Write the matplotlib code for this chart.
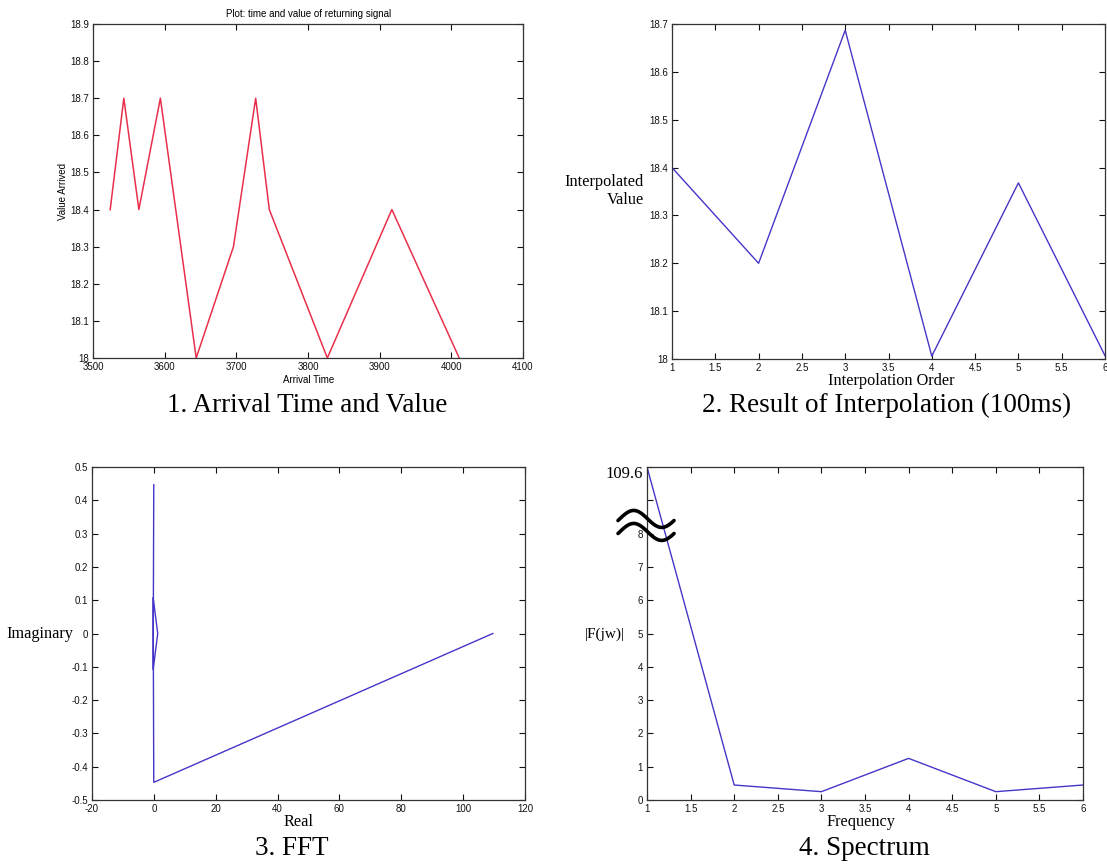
import numpy as np
import matplotlib
matplotlib.use("Agg")
import matplotlib.pyplot as plt

# ----------------------------
# Data
# ----------------------------
arrival_time = [3524, 3543, 3564, 3594, 3644, 3696, 3727, 3746, 3827, 3917, 4011]
arrival_value = [18.4, 18.7, 18.4, 18.7, 18.0, 18.3, 18.7, 18.4, 18.0, 18.4, 18.0]

interp_order = [1, 2, 3, 4, 5, 6]
interp_value = [18.4, 18.2, 18.687, 18.006, 18.368, 18.007]

fft_real = [109.6, -0.03, -0.23, 1.25, -0.23, -0.03]
fft_imag = [0.0, -0.447, 0.108, 0.0, -0.108, 0.447]

freq = [1, 2, 3, 4, 5, 6]
spectrum = [109.6, 0.45, 0.25, 1.25, 0.25, 0.45]
BREAK_TOP = 10  # 109.6 is drawn at the top of the broken axis

W, H = 1107, 865
RED = "#e8304c"
BLUE = "#4536c8"
SERIF = "Liberation Serif"
SANS = "Liberation Sans"
LBL = 11.7

plt.rcParams["font.family"] = SANS
plt.rcParams["axes.linewidth"] = 0.9


def add_px_axes(fig, left, top, right, bottom):
    ax = fig.add_axes([left / W, 1 - bottom / H, (right - left) / W, (bottom - top) / H])
    ax._pxbox = (left, top, right, bottom)
    return ax


def px_text(ax, x, y, s, **kw):
    # place text at figure pixel position, expressed in the axes' own fraction
    l, t, r, b = ax._pxbox
    return ax.text((x - l) / (r - l), (b - y) / (b - t), s, transform=ax.transAxes,
                   clip_on=False, **kw)


def tick_fmt(vals):
    return [f"{v + 0.0:g}" for v in vals]


def matlab_style(ax, xticks, yticks, ylabels=None):
    ax.set_xticks(xticks)
    ax.set_yticks(yticks)
    ax.set_xticklabels(tick_fmt(xticks))
    ax.set_yticklabels(ylabels if ylabels is not None else tick_fmt(yticks))
    ax.tick_params(direction="in", top=True, right=True, length=4, width=0.8,
                   labelsize=7, pad=3, colors="#111111")
    for s in ax.spines.values():
        s.set_color("#333333")


fig = plt.figure(figsize=(W / 100, H / 100), dpi=100)

# ----------------------------
# 1. Arrival time and value
# ----------------------------
ax1 = add_px_axes(fig, 93, 24, 523, 358)
ax1.plot(arrival_time, arrival_value, color=RED, lw=1.1)
ax1.set_xlim(3500, 4100)
ax1.set_ylim(18, 18.9)
matlab_style(ax1, np.arange(3500, 4101, 100), np.round(np.arange(18, 18.91, 0.1), 1))
px_text(ax1, 309, 14, "Plot: time and value of returning signal", fontsize=7,
        ha="center", va="center")
px_text(ax1, 309, 380, "Arrival Time", fontsize=7, ha="center", va="center")
px_text(ax1, 63, 192, "Value Arrived", fontsize=7, ha="center", va="center",
        rotation=90)

# ----------------------------
# 2. Interpolation result
# ----------------------------
ax2 = add_px_axes(fig, 672, 24, 1105, 359)
ax2.plot(interp_order, interp_value, color=BLUE, lw=1.0)
ax2.set_xlim(1, 6)
ax2.set_ylim(18, 18.7)
matlab_style(ax2, np.arange(1, 6.01, 0.5), np.round(np.arange(18, 18.71, 0.1), 1))
px_text(ax2, 891, 381, "Interpolation Order", fontsize=LBL, family=SERIF,
        ha="center", va="center")
px_text(ax2, 644, 191, "Interpolated\nValue", fontsize=LBL, family=SERIF,
        ha="right", va="center", linespacing=1.15)

# ----------------------------
# 3. FFT (real vs imaginary)
# ----------------------------
ax3 = add_px_axes(fig, 92, 467, 525, 800)
ax3.plot(fft_real, fft_imag, color=BLUE, lw=1.0)
ax3.set_xlim(-20, 120)
ax3.set_ylim(-0.5, 0.5)
matlab_style(ax3, np.arange(-20, 121, 20), np.round(np.arange(-0.5, 0.51, 0.1), 1))
px_text(ax3, 298, 822, "Real", fontsize=LBL, family=SERIF, ha="center", va="center")
px_text(ax3, 73, 634, "Imaginary", fontsize=LBL, family=SERIF, ha="right", va="center")

# ----------------------------
# 4. Spectrum with broken axis
# ----------------------------
ax4 = add_px_axes(fig, 647, 467, 1083, 800)
spec_disp = [min(v, BREAK_TOP) for v in spectrum]
ax4.plot(freq, spec_disp, color=BLUE, lw=1.0)
ax4.set_xlim(1, 6)
ax4.set_ylim(0, BREAK_TOP)
ylabels4 = [str(i) for i in range(9)] + ["", ""]
matlab_style(ax4, np.arange(1, 6.01, 0.5), np.arange(0, 11), ylabels=ylabels4)
px_text(ax4, 643, 474, f"{max(spectrum):g}", fontsize=12, family=SERIF,
        ha="right", va="center")
px_text(ax4, 861, 822, "Frequency", fontsize=LBL, family=SERIF, ha="center", va="center")
px_text(ax4, 625, 634, "|F(jw)|", fontsize=11, family=SERIF, ha="right", va="center")

# break mark: two wavy strokes across the y axis
t = np.linspace(0, 1, 60)
wx = -0.0665 + 0.1285 * t
wave = np.sin(2 * np.pi * (t - 0.03))
for yc in (0.844, 0.805):
    ax4.plot(wx, yc + 0.0255 * wave, color="black", lw=2.6, transform=ax4.transAxes,
             clip_on=False, zorder=5, solid_capstyle="round")

# ----------------------------
# Captions
# ----------------------------
captions = ["1. Arrival Time and Value", "2. Result of Interpolation (100ms)",
            "3. FFT", "4. Spectrum"]
cap_pos = [(307, 412), (887, 412), (292, 855), (864, 855)]
for txt, (cx, cy) in zip(captions, cap_pos):
    fig.text(cx / W, 1 - cy / H, txt, ha="center", va="baseline", fontsize=19.5,
             family=SERIF)

fig.savefig("out.png", dpi=100)
